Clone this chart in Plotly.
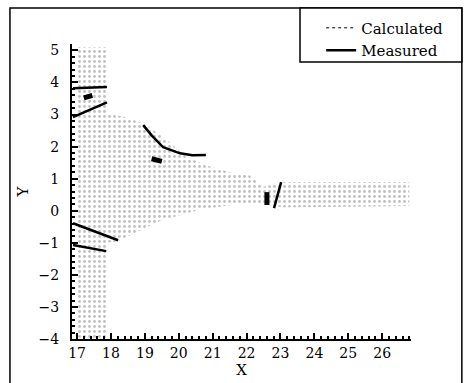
import plotly.graph_objects as go

# Calculated region outline (boundary of the dotted cloud)
calc_x = [17.0, 17.88, 17.88, 18.5, 19.0, 19.6, 20.2, 20.8, 21.6, 22.1, 22.5, 23.1, 26.8,
          26.8, 23.1, 22.5, 21.8, 20.6, 19.5, 18.2, 17.88, 17.88, 17.0]
calc_y = [5.1, 5.1, 3.05, 2.9, 2.7, 2.25, 1.7, 1.42, 1.17, 1.1, 0.75, 0.9, 0.9,
          0.15, 0.1, 0.2, 0.22, 0.02, -0.3, -0.95, -1.0, -4.0, -4.0]

# Measured line segments (None separates segments)
meas_x = [16.88, 17.88, None, 16.88, 17.88, None,
          18.95, 19.2, 19.54, 20.04, 20.4, 20.8, None,
          16.88, 18.21, None, 16.88, 17.86, None, 22.81, 23.02]
meas_y = [3.82, 3.86, None, 2.92, 3.38, None,
          2.67, 2.35, 1.98, 1.79, 1.73, 1.74, None,
          -0.39, -0.92, None, -1.07, -1.26, None, 0.08, 0.89]

# Short thick measured marks
blob_x = [17.2, 17.45, None, 19.2, 19.5, None, 22.6, 22.6]
blob_y = [3.52, 3.6, None, 1.62, 1.54, None, 0.18, 0.58]

serif = "DejaVu Serif"

fig = go.Figure()
fig.add_trace(go.Scatter(
    x=calc_x, y=calc_y, mode="lines", fill="toself",
    line=dict(width=0, color="rgba(0,0,0,0)"),
    fillcolor="rgba(0,0,0,0)",
    fillpattern=dict(shape=".", size=5, solidity=0.25, fgcolor="#808080", bgcolor="white"),
    showlegend=False, hoverinfo="skip"))
fig.add_trace(go.Scatter(
    x=[None], y=[None], mode="lines", name="Calculated",
    line=dict(color="black", width=1, dash="dot")))
fig.add_trace(go.Scatter(
    x=meas_x, y=meas_y, mode="lines", name="Measured",
    line=dict(color="black", width=2.5)))
fig.add_trace(go.Scatter(
    x=blob_x, y=blob_y, mode="lines", showlegend=False,
    line=dict(color="black", width=5)))

axis_common = dict(
    showline=True, linecolor="black", linewidth=2, ticks="inside", ticklen=6,
    tickwidth=1.5, tickcolor="black", showgrid=False, zeroline=False, dtick=1,
    tickfont=dict(family=serif, size=14, color="black"),
    minor=dict(ticks="inside", ticklen=3, tickcolor="black", dtick=0.2, showgrid=False),
)
fig.update_layout(
    width=464, height=383,
    margin=dict(l=72, r=53, t=44, b=44, autoexpand=False),
    plot_bgcolor="white", paper_bgcolor="white",
    xaxis=dict(range=[16.85, 26.85], tick0=17, title=dict(text="X", standoff=2,
               font=dict(family=serif, size=15, color="black")), **axis_common),
    yaxis=dict(range=[-4, 5.2], tick0=-4, ticklabelstandoff=8,
               title=dict(text="Y", standoff=6, font=dict(family=serif, size=15, color="black")),
               **axis_common),
    legend=dict(x=0.735, y=1.11, xanchor="left", yanchor="top",
                borderwidth=0, bgcolor="rgba(0,0,0,0)",
                font=dict(family=serif, size=15, color="black"),
                tracegroupgap=0, itemwidth=30),
    shapes=[dict(type="rect", xref="paper", yref="paper",
                 x0=-0.183, x1=1.150, y0=-0.2, y1=1.122,
                 line=dict(color="black", width=1.5), layer="below"),
            dict(type="rect", xref="paper", yref="paper",
                 x0=0.6726, x1=1.150, y0=0.939, y1=1.122,
                 line=dict(color="black", width=1.5), fillcolor="white", layer="below")],
    showlegend=True,
)
fig.write_html("out.html")
